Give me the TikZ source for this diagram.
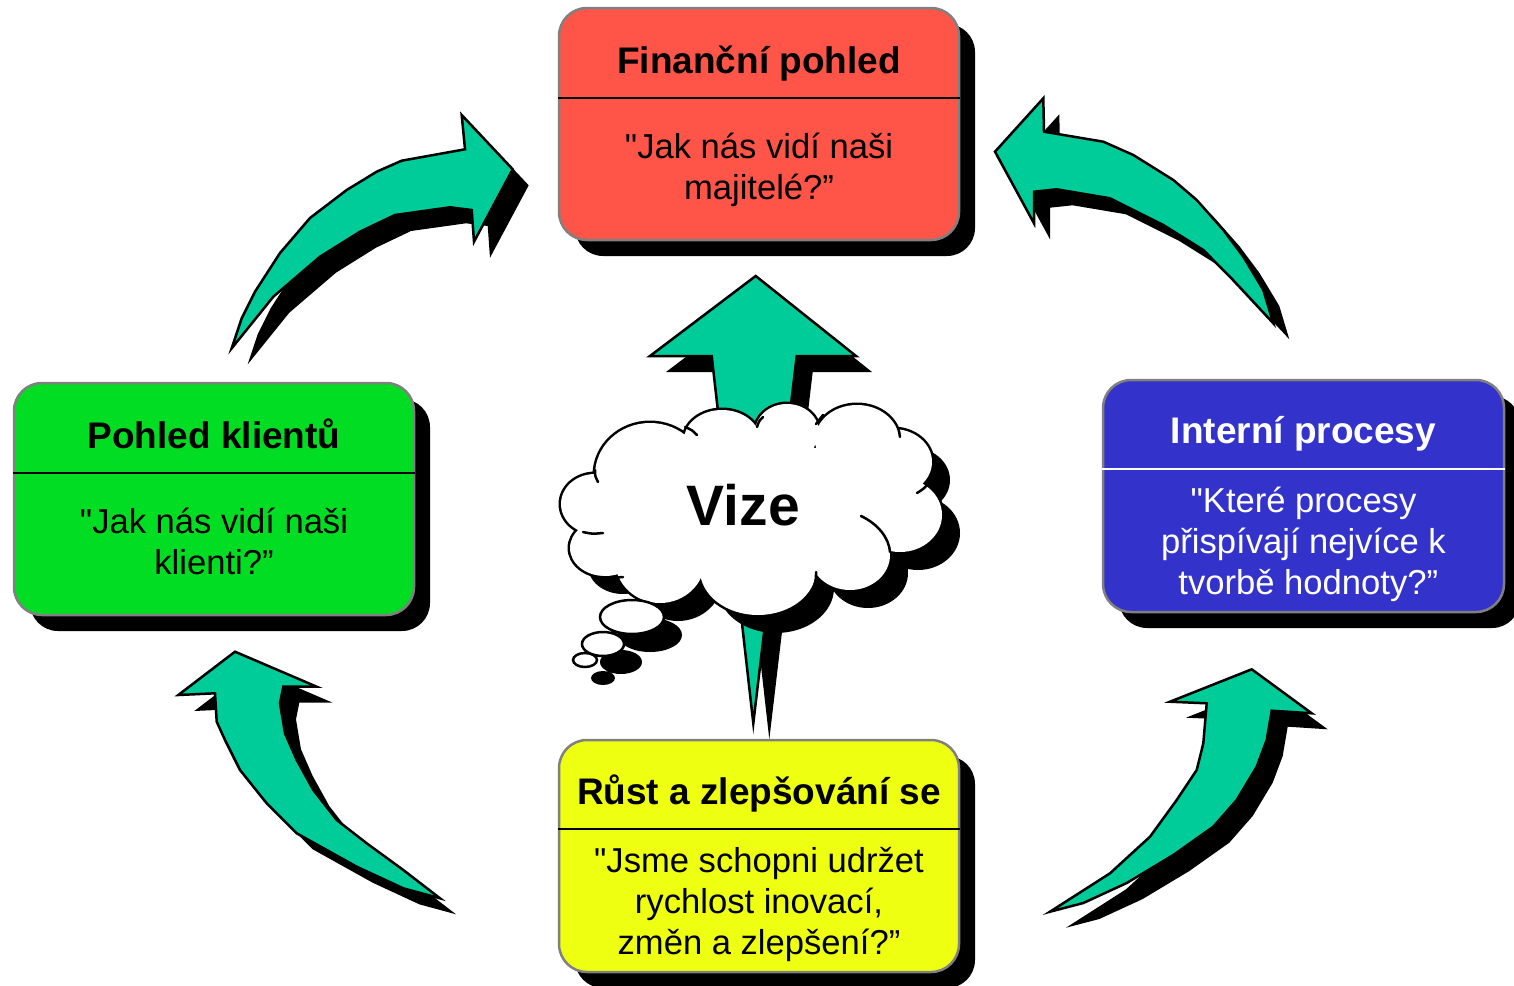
\documentclass[tikz,border=0pt]{standalone}
\usepackage{fontspec}
\setmainfont{Liberation Sans}[Ligatures=TeXOff]
\usetikzlibrary{shadows}
\definecolor{finred}{HTML}{FF5548}
\definecolor{cligreen}{HTML}{00DD22}
\definecolor{intblue}{HTML}{3333CC}
\definecolor{rustyellow}{HTML}{EEFF11}
\definecolor{arrteal}{HTML}{00CC99}
\definecolor{bordergray}{HTML}{808080}
\newcommand\arrA{(231.7,348.3) -- (241.7,318.3) -- (255,291.7) -- (280,253) -- (310,218) -- (346.7,190) -- (376.7,171.7) -- (401.7,160.7) -- (465,149.3) -- (461.7,115) -- (512.7,169.3) -- (474,241.7) -- (471.7,210) -- (450,207.3) -- (395,215) -- (360,231.7) -- (320,256.7) -- (273.3,296.7) -- cycle}
\newcommand\arrB{(995,151.7) -- (1043.3,98.3) -- (1044,131.7) -- (1103.3,141.7) -- (1133.3,155) -- (1173.3,180) -- (1196.7,200) -- (1223.3,230) -- (1243.3,256.7) -- (1263.3,290) -- (1273.3,323.3) -- (1233,280) -- (1203.3,250) -- (1163.3,225) -- (1110,198.3) -- (1056.7,189.3) -- (1034,191.7) -- (1034,223.3) -- cycle}
\newcommand\arrC{(235,651.7) -- (316.7,686.7) -- (283.3,686.7) -- (280,703.3) -- (285,733.3) -- (296.7,760) -- (313.3,790) -- (336.7,820) -- (366.7,843.3) -- (403.3,870) -- (440,898.3) -- (403.3,888.3) -- (356.7,866.7) -- (296.7,833.3) -- (266.7,803.3) -- (240,770) -- (225,740) -- (216.7,721.7) -- (215,693.3) -- (178.3,695) -- cycle}
\newcommand\arrD{(1251.7,669.3) -- (1311.7,713.3) -- (1271.7,710.7) -- (1266.7,740) -- (1256.7,766.7) -- (1236.7,800) -- (1213.3,826.7) -- (1173.3,855) -- (1126.7,883) -- (1083.3,903) -- (1050,911.7) -- (1110,873.3) -- (1150,836.7) -- (1176.7,800) -- (1196.7,770) -- (1203.3,743.3) -- (1206.7,703.3) -- (1170,701.7) -- cycle}
\newcommand\arrV{(755.7,276) -- (856,356) -- (796.7,356) -- (753.3,723.3) -- (711.7,356) -- (650,356) -- cycle}
\newcommand\cloudbumps{
(595,504) ellipse [x radius=34, y radius=30]
(605,548) ellipse [x radius=35, y radius=28]
(660,560) ellipse [x radius=45, y radius=43]
(758,570) ellipse [x radius=58, y radius=45]
(850,555) ellipse [x radius=40, y radius=35]
(900,515) ellipse [x radius=42, y radius=37]
(893,462) ellipse [x radius=39, y radius=33]
(857,440) ellipse [x radius=42, y radius=35]
(787,432) ellipse [x radius=32, y radius=28]
(722,440) ellipse [x radius=38, y radius=30]
(650,475) ellipse [x radius=55, y radius=52]
(750,510) ellipse [x radius=140, y radius=70]}
\newcommand\bubbles{
(632,617) ellipse [x radius=32, y radius=17]
(603,644) ellipse [x radius=21, y radius=12]
(585,660) ellipse [x radius=12, y radius=7]}
\begin{document}
\begin{tikzpicture}[x=1pt,y=-1pt,
  box/.style={draw=bordergray, line width=2.5pt, rounded corners=28pt,
    minimum width=400pt, minimum height=232pt, inner sep=0pt,
    drop shadow={shadow xshift=16pt, shadow yshift=-16pt, fill=black, opacity=1}},
  divider/.style={line width=2pt, draw=black},
  title/.style={anchor=base, inner sep=0pt, font=\fontsize{37}{44}\selectfont\bfseries},
  body/.style={anchor=base, inner sep=0pt, font=\fontsize{34.6}{41}\selectfont},
  arrowbody/.style={fill=arrteal, draw=black, line width=2.5pt, line join=miter},
  arrowshadow/.style={fill=black, shift={(16,16)}},
  cloudshadow/.style={fill=black, shift={(18,18)}},
  hook/.style={draw=black, line width=2.5pt, line cap=round}]
\useasboundingbox[fill=white] (0,0) rectangle (1514,985);

% curved arrows
\fill[arrowshadow] \arrA;
\path[arrowbody] \arrA;
\fill[arrowshadow] \arrB;
\path[arrowbody] \arrB;
\fill[arrowshadow] \arrC;
\path[arrowbody] \arrC;
\fill[arrowshadow] \arrD;
\path[arrowbody] \arrD;

% central arrow
\fill[arrowshadow] \arrV;
\path[arrowbody] \arrV;

% cloud
\fill[cloudshadow] \cloudbumps;
\draw[line width=5pt] \cloudbumps;
\fill[white] \cloudbumps;
\draw[hook] (861,516) .. controls (878,524) and (889,538) .. (890,552);
\draw[hook] (930,480) .. controls (927,487) and (922,490) .. (917,493);
\draw[hook] (898,428) .. controls (899,431) .. (900,437);
\draw[hook] (823,415) .. controls (819,419) .. (816,424);
\draw[hook] (763,417) .. controls (759,421) .. (757,427);
\draw[hook] (685,427) .. controls (692,430) .. (697,435);
\draw[hook] (595,470) .. controls (595,476) .. (598,482);
\draw[hook] (583,532) .. controls (592,534) .. (603,533);
\draw[hook] (600,577) .. controls (612,578) .. (623,577);
\draw[hook] (712,600) .. controls (705,595) .. (700,588);
\draw[hook] (813,590) .. controls (816,580) .. (816,572);
\fill[cloudshadow] \bubbles;
\path[fill=white, draw=black, line width=2.5pt] \bubbles;
\node[anchor=base, inner sep=0pt, font=\fontsize{57}{64}\selectfont\bfseries] (vize) at (743.5,525) {Vize};

% boxes
\node[box, fill=finred] (fin) at (759,124) {};
\draw[divider] (fin.west |- 0,98) -- (fin.east |- 0,98);
\node[title] (fint) at (759,73) {Finanční pohled};
\node[body] (finb) at (759,158) {\begin{tabular}[t]{@{}c@{}}"Jak nás vidí naši\\majitelé?”\end{tabular}};

\node[box, fill=cligreen] (cli) at (214,499) {};
\draw[divider] (cli.west |- 0,473) -- (cli.east |- 0,473);
\node[title] (clit) at (214,448) {Pohled klientů};
\node[body] (clib) at (214,533) {\begin{tabular}[t]{@{}c@{}}"Jak nás vidí naši\\klienti?”\end{tabular}};

\node[box, fill=intblue, minimum width=401pt] (int) at (1303.5,496) {};
\draw[divider, draw=white] (int.west |- 0,469) -- (int.east |- 0,469);
\node[title, text=white] (intt) at (1303.5,443) {Interní procesy};
\node[body, text=white] (intb) at (1303.5,512) {\begin{tabular}[t]{@{}c@{}}"Které procesy\\přispívají nejvíce k\\\ tvorbě hodnoty?”\end{tabular}};

\node[box, fill=rustyellow] (rust) at (759,856) {};
\draw[divider] (rust.west |- 0,829) -- (rust.east |- 0,829);
\node[title] (rustt) at (759,804) {Růst a zlepšování se};
\node[body] (rustb) at (759,872) {\begin{tabular}[t]{@{}c@{}}"Jsme schopni udržet\\rychlost inovací,\\změn a zlepšení?”\end{tabular}};
\end{tikzpicture}
\end{document}
